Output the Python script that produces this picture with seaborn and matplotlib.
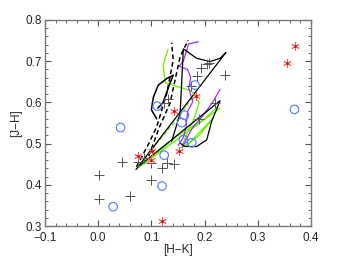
import numpy as np
import pandas as pd
import matplotlib
matplotlib.use("Agg")
import matplotlib.pyplot as plt
import seaborn as sns
from matplotlib.ticker import MultipleLocator

sns.set_theme(style="white")
plt.rcParams['font.family'] = ['Liberation Sans', 'DejaVu Sans']

# ---- data ----
plus_hk = [0.002, 0.002, 0.044, 0.059, 0.075, 0.100, 0.100, 0.120, 0.129, 0.142, 0.087,
           0.132, 0.124, 0.175, 0.185, 0.194, 0.209, 0.238, 0.220, 0.204, 0.190]
plus_jh = [0.425, 0.365, 0.455, 0.373, 0.455, 0.412, 0.454, 0.440, 0.452, 0.450, 0.466,
           0.608, 0.598, 0.640, 0.664, 0.684, 0.696, 0.667, 0.598, 0.692, 0.560]

circ_hk = [0.042, 0.111, 0.028, 0.120, 0.124, 0.157, 0.162, 0.182, 0.176, 0.160, 0.369]
circ_jh = [0.539, 0.591, 0.347, 0.397, 0.472, 0.551, 0.569, 0.642, 0.502, 0.510, 0.583]

star_hk = [0.074, 0.102, 0.100, 0.152, 0.120, 0.183, 0.143, 0.355, 0.370]
star_jh = [0.471, 0.483, 0.460, 0.481, 0.313, 0.616, 0.578, 0.696, 0.737]

# model tracks
blk1_hk = [0.071, 0.240, 0.229, 0.210, 0.185, 0.160, 0.157, 0.154, 0.138]
blk1_jh = [0.437, 0.721, 0.707, 0.699, 0.707, 0.730, 0.650, 0.573, 0.505]
blk2_hk = [0.079, 0.229, 0.213, 0.204, 0.185, 0.163, 0.154]
blk2_jh = [0.448, 0.604, 0.553, 0.509, 0.493, 0.493, 0.501]
blk3_hk = [0.110, 0.100, 0.102, 0.104, 0.113, 0.129, 0.141, 0.133, 0.122, 0.112]
blk3_jh = [0.560, 0.582, 0.600, 0.614, 0.642, 0.658, 0.666, 0.640, 0.600, 0.586]
dash1_hk = [0.072, 0.095, 0.110, 0.129, 0.141, 0.138]
dash1_jh = [0.444, 0.500, 0.541, 0.622, 0.703, 0.745]
dash2_hk = [0.095, 0.115, 0.135, 0.154, 0.169]
dash2_jh = [0.470, 0.540, 0.598, 0.711, 0.751]

grn1_hk = [0.075, 0.229]
grn1_jh = [0.441, 0.586]
grn2_hk = [0.085, 0.150, 0.200, 0.225]
grn2_jh = [0.450, 0.520, 0.560, 0.590]
grn3_hk = [0.131, 0.122, 0.126, 0.150, 0.175, 0.190, 0.180, 0.165, 0.158]
grn3_jh = [0.728, 0.690, 0.648, 0.638, 0.628, 0.600, 0.560, 0.520, 0.495]
grn4_hk = [0.155, 0.170, 0.200, 0.215, 0.190, 0.165]
grn4_jh = [0.490, 0.500, 0.540, 0.560, 0.520, 0.495]
grnd_hk = [0.080, 0.110, 0.135, 0.150, 0.160, 0.170, 0.185]
grnd_jh = [0.450, 0.500, 0.540, 0.560, 0.580, 0.600, 0.620]

pur1_hk = [0.188, 0.170, 0.160, 0.152, 0.168, 0.174, 0.170, 0.174, 0.178, 0.168, 0.165, 0.160, 0.150]
pur1_jh = [0.747, 0.742, 0.700, 0.688, 0.680, 0.660, 0.635, 0.618, 0.602, 0.578, 0.540, 0.515, 0.495]
pur2_hk = [0.229, 0.215, 0.195, 0.178, 0.165, 0.158]
pur2_jh = [0.632, 0.600, 0.565, 0.540, 0.510, 0.490]

fig = plt.figure(figsize=(3.41, 2.56), dpi=100)
ax = fig.add_axes([0.132, 0.117, 0.780, 0.805])

green = '#66ee00'
purple = '#a030f0'

def track(hk, jh, color, ls='-', lw=0.9):
    df = pd.DataFrame({'hk': hk, 'jh': jh})
    sns.lineplot(data=df, x='hk', y='jh', sort=False, estimator=None, ax=ax,
                 color=color, linestyle=ls, linewidth=lw)

track(grn1_hk, grn1_jh, green)
track(grn2_hk, grn2_jh, green)
track(grn3_hk, grn3_jh, green)
track(grn4_hk, grn4_jh, green)
track(grnd_hk, grnd_jh, green, ls=(0, (3, 2)))
track(pur1_hk, pur1_jh, purple)
track(pur2_hk, pur2_jh, purple)
track(blk1_hk, blk1_jh, 'black')
track(blk2_hk, blk2_jh, 'black')
track(blk3_hk, blk3_jh, 'black', lw=1.1)
track(dash1_hk, dash1_jh, 'black', ls=(0, (3, 2)), lw=1.1)
track(dash2_hk, dash2_jh, 'black', ls=(0, (3, 2)), lw=1.1)

sns.scatterplot(x=plus_hk, y=plus_jh, marker='+', s=45, color='#555555',
                linewidth=0.7, ax=ax, zorder=5)
sns.scatterplot(x=circ_hk, y=circ_jh, marker='o', s=38, facecolor='none',
                edgecolor='#5577ff', linewidth=0.8, ax=ax, zorder=5)
sns.scatterplot(x=star_hk, y=star_jh, marker=(6, 2, 0), s=32, color='#ff5555',
                linewidth=0.6, ax=ax, zorder=6)
sns.scatterplot(x=star_hk, y=star_jh, marker='o', s=3, color='#cc0000',
                linewidth=0, ax=ax, zorder=7)

ax.set_xlim(-0.1, 0.4)
ax.set_ylim(0.3, 0.8)
ax.xaxis.set_major_locator(MultipleLocator(0.1))
ax.yaxis.set_major_locator(MultipleLocator(0.1))
ax.xaxis.set_minor_locator(MultipleLocator(0.02))
ax.yaxis.set_minor_locator(MultipleLocator(0.02))
ax.tick_params(which='both', direction='in', top=True, right=True,
               bottom=True, left=True, color='#555555', labelsize=8.5)
ax.tick_params(axis='x', pad=4.5)
ax.tick_params(axis='y', pad=2.5)
ax.tick_params(which='major', length=4, width=0.8)
ax.tick_params(which='minor', length=2, width=0.6)
ax.set_xlabel('[H\u2212K]', fontsize=8.5, labelpad=0)
ax.set_ylabel('[J\u2212H]', fontsize=8.5, labelpad=2)
for sp in ax.spines.values():
    sp.set_color('#777777')
    sp.set_linewidth(1.0)
ax.grid(False)

fig.savefig('out.png', dpi=100)
